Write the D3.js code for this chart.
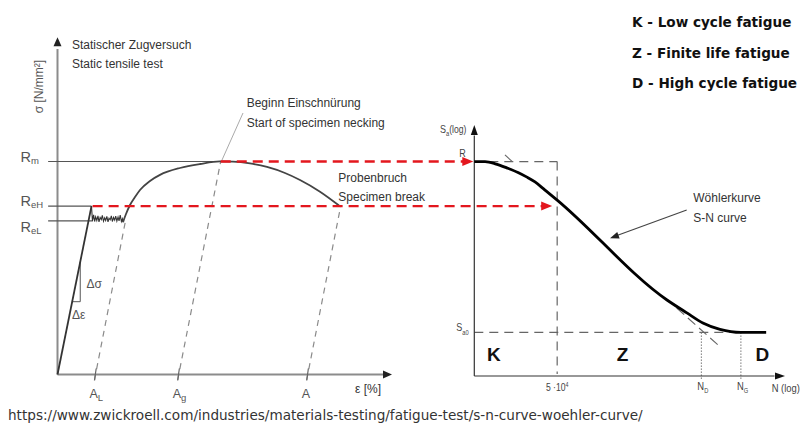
<!DOCTYPE html>
<html><head><meta charset="utf-8">
<script src="https://cdn.jsdelivr.net/npm/d3@7"></script>
<style>body{margin:0;background:#fff}svg{display:block}</style>
</head><body>
<svg id="c" width="800" height="432"></svg>
<script>
// ---------- LEFT: static tensile test (schematic units) ----------
const stressLevels = [
  {key:"R", sub:"m",  value:63.5, lineEnd:48.58, labelY:161.7},
  {key:"R", sub:"eH", value:50.2, lineEnd:10.16, labelY:205.7},
  {key:"R", sub:"eL", value:45.8, lineEnd:10.6,  labelY:231.7}
];
const elasticLine = [[0,0],[10.16,50.2]];
const plateauX = [10.16,10.45,10.8,11.1,11.4,11.75,12.1,12.4,12.75,13.1,13.4,13.75,14.1,14.4,14.75,15.1,15.4,15.75,16.1,16.4,16.75,17.1,17.4,17.75,18.1,18.4,18.75,19.1,19.4,19.58];
const plateauY = [50.2,45.8,47.6,45.6,47.0,45.9,47.3,45.5,46.8,46.2,47.4,45.7,46.7,45.9,47.1,45.5,46.6,46.1,47.3,45.6,46.8,46.0,47.2,45.7,46.9,45.8,47.5,45.6,46.4,45.4];
const hardeningX = [19.58,20.48,21.67,23.17,24.66,27.65,30.64,36.6,42.6,48.58,52.47,57.55,62.63,68.0,72.5,78.48,84.16];
const hardeningY = [45.4,47.84,50.52,52.9,55.0,57.7,59.5,61.55,62.74,63.5,63.43,62.9,61.85,60.06,57.97,54.49,50.37];
const strainTicks = [
  {label:"A", sub:"L", value:11.06, top:45.8},
  {label:"A", sub:"g", value:35.93, top:63.5},
  {label:"A", sub:"",  value:74.5,  top:50.2}
];
const elasticSlope = 10.16/50.2; // strain per stress unit (from elasticLine)
const deltaTriangle = [[4.39,21.7],[6.8,21.7],[6.8,33.6]];
const neckingLeader = [[55.46,77.94],[49.18,63.93]];

// ---------- RIGHT: S-N curve (log-log) ----------
const snN = [6000,7900,10500,13800,18350,23100,28350,36600,50000,830000,1380000,2080000,3220000,5500000,10500000];
const snS = [600,600,592,580,566,552,538,515,488,285.6,266.5,252.5,244,240,240];
const R = 600, Sa0 = 240, Nk = 5e4, ND = 2e6, NG = 5.5e6;
const tangentTop = [[13150,622],[17400,589]];
const tangentBottom = [[1064000,273.6],[3060000,224.4]];
const regions = [{name:"K", N:8300},{name:"Z", N:230000},{name:"D", N:8000000}];
const legendItems = ["K - Low cycle fatigue","Z - Finite life fatigue","D - High cycle fatigue"];
const sourceUrl = "https://www.zwickroell.com/industries/materials-testing/fatigue-test/s-n-curve-woehler-curve/";

const svg = d3.select("#c");
const sans = "'Liberation Sans', Arial, Helvetica, sans-serif";
const dejavu = "'DejaVu Sans', sans-serif";

const xL = d3.scaleLinear().domain([0,100]).range([57.5,392]);
const yL = d3.scaleLinear().domain([0,100]).range([374.5,39]);
const xR = d3.scaleLog().domain([6000,1.7e7]).range([474.3,785]);
const yR = d3.scaleLog().domain([190,730]).range([376,125]);

function arrow(g, tx, ty, angle, len, half, color){
  const c = Math.cos(angle), s = Math.sin(angle);
  const bx = tx - c*len, by = ty - s*len;
  g.append("path").attr("d",`M${tx},${ty}L${bx - s*half},${by + c*half}L${bx + s*half},${by - c*half}Z`).attr("fill",color);
}
const line = (xs, ys) => d3.line().x(d=>xs(d[0])).y(d=>ys(d[1]));
// condensed text helper (narrow look)
function narrowText(g, x, y, size, anchor){
  return g.append("text").attr("transform",`translate(${x},${y}) scale(0.82,1)`).attr("text-anchor",anchor||"start")
    .attr("font-family",sans).attr("font-size",size).attr("fill","#444");
}

// ===== LEFT CHART =====
const gl = svg.append("g");
gl.append("line").attr("x1",xL(0)).attr("y1",yL(0)).attr("x2",xL(0)).attr("y2",yL(97)).attr("stroke","#8c8c8c").attr("stroke-width",2);
arrow(gl, xL(0), yL(100.5), -Math.PI/2, 9, 4, "#222");
gl.append("line").attr("x1",xL(0)).attr("y1",yL(0)).attr("x2",xL(97.5)).attr("y2",yL(0)).attr("stroke","#8c8c8c").attr("stroke-width",2);
arrow(gl, xL(100), yL(0), 0, 9, 4, "#222");

gl.selectAll(".lvl").data(stressLevels).join("line")
  .attr("x1",xL(-2.8)).attr("x2",d=>xL(d.lineEnd))
  .attr("y1",d=>yL(d.value)).attr("y2",d=>yL(d.value))
  .attr("stroke","#555").attr("stroke-width",1.1);
gl.selectAll(".lvlt").data(stressLevels).join("text")
  .attr("x",20.5).attr("y",d=>d.labelY).attr("font-family",sans).attr("font-size",14.5).attr("fill","#555")
  .each(function(d){ const t=d3.select(this); t.append("tspan").text(d.key); t.append("tspan").attr("font-size",9.5).attr("dy",2).text(d.sub); });

gl.selectAll(".unl").data(strainTicks).join("line")
  .attr("x1",d=>xL(d.value)).attr("y1",yL(-1.6))
  .attr("x2",d=>xL(d.value + elasticSlope*d.top)).attr("y2",d=>yL(d.top))
  .attr("stroke","#8a8a8a").attr("stroke-width",1.2).attr("stroke-dasharray","6,5");
gl.selectAll(".tk").data(strainTicks).join("line")
  .attr("x1",d=>xL(d.value)).attr("x2",d=>xL(d.value+0.5)).attr("y1",yL(-1.8)).attr("y2",yL(1.8))
  .attr("stroke","#666").attr("stroke-width",1.2);
gl.selectAll(".tkl").data(strainTicks).join("text")
  .attr("x",d=>xL(d.value)-5).attr("y",398).attr("font-family",sans).attr("font-size",12.5).attr("fill","#555")
  .each(function(d){ const t=d3.select(this); t.append("tspan").text(d.label); if(d.sub) t.append("tspan").attr("font-size",9.5).attr("dy",3).text(d.sub); });

gl.append("path").attr("d", line(xL,yL)(deltaTriangle)).attr("fill","none").attr("stroke","#555").attr("stroke-width",1);
gl.append("text").attr("x",xL(8.7)).attr("y",yL(25.8)).attr("font-family",sans).attr("font-size",12).attr("fill","#555").text("Δσ");
gl.append("text").attr("x",xL(4.3)).attr("y",yL(16.5)).attr("font-family",sans).attr("font-size",12).attr("fill","#555").text("Δε");

gl.append("path").attr("d", line(xL,yL)(elasticLine)).attr("fill","none").attr("stroke","#333").attr("stroke-width",1.8);
gl.append("path").attr("d", line(xL,yL)(plateauX.map((x,i)=>[x,plateauY[i]]))).attr("fill","none").attr("stroke","#333").attr("stroke-width",1.1);
gl.append("path").attr("d", d3.line().curve(d3.curveMonotoneX).x(d=>xL(d[0])).y(d=>yL(d[1]))(hardeningX.map((x,i)=>[x,hardeningY[i]]))).attr("fill","none").attr("stroke","#444").attr("stroke-width",1.8);

gl.append("path").attr("d", line(xL,yL)(neckingLeader)).attr("stroke","#aaa").attr("stroke-width",1);

const tl = [
  ["Statischer Zugversuch",72,49],["Static tensile test",72,68],
  ["Beginn Einschnürung",246.7,107.3],["Start of specimen necking",246.7,126.7],
  ["Probenbruch",338.3,181.7],["Specimen break",338.3,200.7],
  ["ε [%]",355,393.3]
];
gl.selectAll(".tl").data(tl).join("text").attr("x",d=>d[1]).attr("y",d=>d[2]).attr("font-family",sans).attr("font-size",12).attr("fill","#333").text(d=>d[0]);
gl.append("text").attr("transform","translate(43,86.5) rotate(-90)").attr("text-anchor","middle").attr("font-family",sans).attr("font-size",12).attr("fill","#555").text("σ [N/mm²]");

// ===== RIGHT CHART =====
const gr = svg.append("g");
const dash = {stroke:"#666", w:1.2, da:"9,6"};
gr.append("line").attr("x1",xR(6000)).attr("x2",xR(Nk)).attr("y1",yR(R)).attr("y2",yR(R)).attr("stroke",dash.stroke).attr("stroke-width",dash.w).attr("stroke-dasharray",dash.da);
gr.append("line").attr("x1",xR(Nk)).attr("x2",xR(Nk)).attr("y1",yR(R)).attr("y2",yR(192)).attr("stroke",dash.stroke).attr("stroke-width",dash.w).attr("stroke-dasharray",dash.da);
gr.append("line").attr("x1",xR(6000)).attr("x2",xR(NG)).attr("y1",yR(Sa0)).attr("y2",yR(Sa0)).attr("stroke",dash.stroke).attr("stroke-width",dash.w).attr("stroke-dasharray",dash.da);
[ND,NG].forEach(n=>{
  gr.append("line").attr("x1",xR(n)).attr("x2",xR(n)).attr("y1",yR(Sa0)).attr("y2",yR(186)).attr("stroke","#777").attr("stroke-width",1).attr("stroke-dasharray","1.5,1.5");
});
[tangentTop,tangentBottom].forEach(t=>{
  gr.append("path").attr("d", line(xR,yR)(t)).attr("stroke","#666").attr("stroke-width",1.1).attr("stroke-dasharray","10,5").attr("fill","none");
});
gr.append("line").attr("x1",xR(6000)).attr("x2",xR(6000)).attr("y1",yR(190)).attr("y2",yR(690)).attr("stroke","#333").attr("stroke-width",1.2);
arrow(gr, xR(6000), yR(730), -Math.PI/2, 10, 3.5, "#111");
gr.append("line").attr("x1",xR(6000)).attr("x2",xR(1.3e7)).attr("y1",yR(190)).attr("y2",yR(190)).attr("stroke","#333").attr("stroke-width",1.2);
arrow(gr, xR(1.7e7), yR(190), 0, 10, 3.5, "#111");
gr.append("path").attr("d", d3.line().curve(d3.curveMonotoneX).x(d=>xR(d[0])).y(d=>yR(d[1]))(snN.map((n,i)=>[n,snS[i]]))).attr("fill","none").attr("stroke","#000").attr("stroke-width",2.8);
gr.append("line").attr("x1",686.7).attr("y1",210).attr("x2",617).attr("y2",235.5).attr("stroke","#444").attr("stroke-width",1.2);
arrow(gr, 610, 238.3, Math.atan2(238.3-210, 610-686.7), 9, 3.5, "#222");
gr.append("text").attr("x",693.3).attr("y",201.7).attr("font-family",sans).attr("font-size",12).attr("fill","#333").text("Wöhlerkurve");
gr.append("text").attr("x",693.3).attr("y",221.7).attr("font-family",sans).attr("font-size",12).attr("fill","#333").text("S-N curve");

let t = narrowText(gr, 440, 133, 11);
t.append("tspan").text("S"); t.append("tspan").attr("font-size",7).attr("dy",3).text("a"); t.append("tspan").attr("dy",-3).attr("font-size",10.5).text("(log)");
narrowText(gr, xR(6000)-15, yR(R)-4.5, 11).text("R");
t = narrowText(gr, xR(6000)-18, yR(Sa0)-1, 11);
t.append("tspan").text("S"); t.append("tspan").attr("font-size",7).attr("dy",4).text("a0");
t = narrowText(gr, xR(Nk), 390.7, 10.5, "middle");
t.append("tspan").text("5 ·10"); t.append("tspan").attr("font-size",6.5).attr("dy",-4).text("4");
[[ND,"D"],[NG,"G"]].forEach(([n,s])=>{
  const tt = narrowText(gr, xR(n)-4, 390, 11.5);
  tt.append("tspan").text("N"); tt.append("tspan").attr("font-size",7).attr("dy",3).text(s);
});
narrowText(gr, 771.7, 391.7, 11.5).text("N (log)");
gr.selectAll(".reg").data(regions).join("text").attr("x",d=>xR(d.N)).attr("y",360.7).attr("font-family",sans).attr("font-weight","bold").attr("font-size",19).attr("fill","#111").text(d=>d.name);

// ===== red connecting arrows =====
const rm = stressLevels[0].value, reh = stressLevels[1].value;
const gRed = svg.append("g");
gRed.append("line").attr("x1",xL(48.8)).attr("x2",xR(6000)-10).attr("y1",yL(rm)).attr("y2",yL(rm)).attr("stroke","#e3171e").attr("stroke-width",2.4).attr("stroke-dasharray","10,6");
arrow(gRed, xR(6000)-1, yL(rm), 0, 11, 4.5, "#e3171e");
gRed.append("line").attr("x1",xL(10.5)).attr("x2",xR(Nk)-12).attr("y1",yL(reh)).attr("y2",yL(reh)).attr("stroke","#e3171e").attr("stroke-width",2.4).attr("stroke-dasharray","10,6");
arrow(gRed, xR(Nk)-5, yL(reh), 0, 11, 4.5, "#e3171e");

// ===== legend & source =====
svg.selectAll(".leg").data(legendItems).join("text").attr("x",632).attr("y",(d,i)=>27+i*30.6).attr("font-family",dejavu).attr("font-weight","bold").attr("font-size",13.6).attr("fill","#111").text(d=>d);
svg.append("text").attr("x",8).attr("y",420).attr("font-family",dejavu).attr("font-size",13.6).attr("fill","#333").text(sourceUrl);
</script>
</body></html>
